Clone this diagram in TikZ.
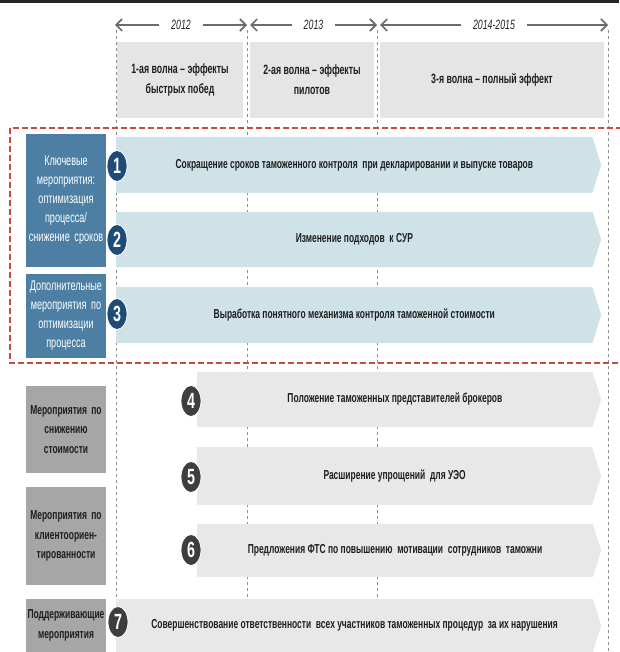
\documentclass[tikz,border=0pt]{standalone}
\usepackage{fontspec}
\setmainfont{Liberation Sans}[FakeStretch=0.65]
\usetikzlibrary{shapes.geometric,shapes.symbols,arrows.meta}
\definecolor{cus-blue}{RGB}{76, 127, 163}
\definecolor{cus-blue1}{RGB}{206, 226, 232}
\definecolor{cus-blue2}{RGB}{31, 75, 120}
\definecolor{cus-gray}{RGB}{229, 229, 229}
\definecolor{cus-gray1}{RGB}{166, 166, 166}
\definecolor{cus-gray2}{RGB}{232, 232, 232}
\definecolor{cus-gray3}{RGB}{62, 62, 62}
\definecolor{cus-red}{RGB}{196, 78, 68}
\definecolor{cus-text}{RGB}{30, 30, 30}
\tikzset{
  lbox/.style={rectangle, inner sep=0pt, minimum width=80, text width=80pt, align=center, font=\fontsize{14}{19}\selectfont},
  dbox/.style={lbox, fill=cus-gray1, text=cus-text, font=\fontsize{13}{19.5}\selectfont\bfseries},
  headbox/.style={rectangle, fill=cus-gray, inner sep=0pt, minimum height=76, align=center, text=cus-text, font=\fontsize{13.5}{20}\selectfont\bfseries},
  abar/.style={signal, signal to=east, signal pointer angle=145, inner sep=0pt, anchor=west, text=cus-text, font=\fontsize{13}{15}\selectfont\bfseries},
  num/.style={ellipse, draw=white, line width=0.8, minimum width=20, minimum height=31, inner sep=0pt, text=white, font=\fontsize{22}{22}\selectfont\bfseries},
  yarrow/.style={draw=black!58, line width=1.6, {Straight Barb[length=6pt,width=12pt]}-{Straight Barb[length=6pt,width=12pt]}},
  ylabel/.style={fill=white, inner xsep=12pt, inner ysep=1pt, text=black!85, font=\fontsize{13.5}{15}\selectfont\itshape},
  vline/.style={draw=black!45, line width=0.6, dash pattern=on 3pt off 3pt}
}

\begin{document}
\begin{tikzpicture}[x=1pt, y=-1pt]
\useasboundingbox (0,0) rectangle (619,652);
\fill[black!85] (0,0) rectangle (619,3);

% years
\coordinate (y0) at (115,25);
\coordinate (y1) at (247,25);
\coordinate (y2) at (250,25);
\coordinate (y3) at (377,25);
\coordinate (y4) at (380,25);
\coordinate (y5) at (608,25);
\draw[yarrow] (y0) -- (y1) node[midway, ylabel] (l2012) {2012};
\draw[yarrow] (y2) -- (y3) node[midway, ylabel] (l2013) {2013};
\draw[yarrow] (y4) -- (y5) node[midway, ylabel] (l2014) {2014-2015};

% waves
\node[headbox, minimum width=126] (w1) at (180,80) {1-ая волна – эффекты\\быстрых побед};
\node[headbox, minimum width=124] (w2) at (312,80) {2-ая волна – эффекты\\пилотов};
\node[headbox, minimum width=224] (w3) at (492,80) {3-я волна – полный эффект};

\foreach \x in {116,247,377,608}
  \draw[vline] (\x,30) -- (\x,652);

% key measures
\node[abar, fill=cus-blue1, minimum width=485, minimum height=56] (m1) at (116,165) {Сокращение сроков таможенного контроля\ \ при декларировании и выпуске товаров};
\node[abar, fill=cus-blue1, minimum width=485, minimum height=55] (m2) at (116,239.5) {Изменение подходов\ \ к СУР};
\node[abar, fill=cus-blue1, minimum width=485, minimum height=56] (m3) at (116,315) {Выработка понятного механизма контроля таможенной стоимости};
\node[num, fill=cus-blue2] (n1) at (117,166) {1};
\node[num, fill=cus-blue2] (n2) at (117,240) {2};
\node[num, fill=cus-blue2] (n3) at (117,314) {3};

% other measures
\node[abar, fill=cus-gray2, minimum width=404, minimum height=55] (m4) at (197,399.5) {Положение таможенных представителей брокеров};
\node[abar, fill=cus-gray2, minimum width=404, minimum height=58] (m5) at (197,476) {Расширение упрощений\ \ для УЭО};
\node[abar, fill=cus-gray2, minimum width=404, minimum height=53] (m6) at (197,550.5) {Предложения ФТС по повышению\ \ мотивации\ \ сотрудников\ \ таможни};
\node[abar, fill=cus-gray2, minimum width=485, minimum height=53] (m7) at (116,625.5) {Совершенствование ответственности\ \ всех участников таможенных процедур\ \ за их нарушения};
\node[num, fill=cus-gray3] (n4) at (191,401) {4};
\node[num, fill=cus-gray3] (n5) at (191,477) {5};
\node[num, fill=cus-gray3] (n6) at (191,550) {6};
\node[num, fill=cus-gray3] (n7) at (118,622) {7};

% groups
\node[lbox, fill=cus-blue, text=white, minimum height=133] (g1) at (66,200.5) {Ключевые\\мероприятия:\\оптимизация\\процесса/\\снижение сроков};
\node[lbox, fill=cus-blue, text=white, minimum height=84] (g2) at (66,316) {Дополнительные\\мероприятия по\\оптимизации\\процесса};
\node[dbox, minimum height=87] (g3) at (66,429.5) {Мероприятия по\\снижению\\стоимости};
\node[dbox, minimum height=98] (g4) at (66,536) {Мероприятия по\\клиентоориен-\\тированности};
\node[dbox, minimum height=53] (g5) at (66,625.5) {Поддерживающие\\мероприятия};

\draw[cus-red, line width=2, dash pattern=on 6pt off 3pt] (10,128) rectangle (630,363);
\end{tikzpicture}
\end{document}
